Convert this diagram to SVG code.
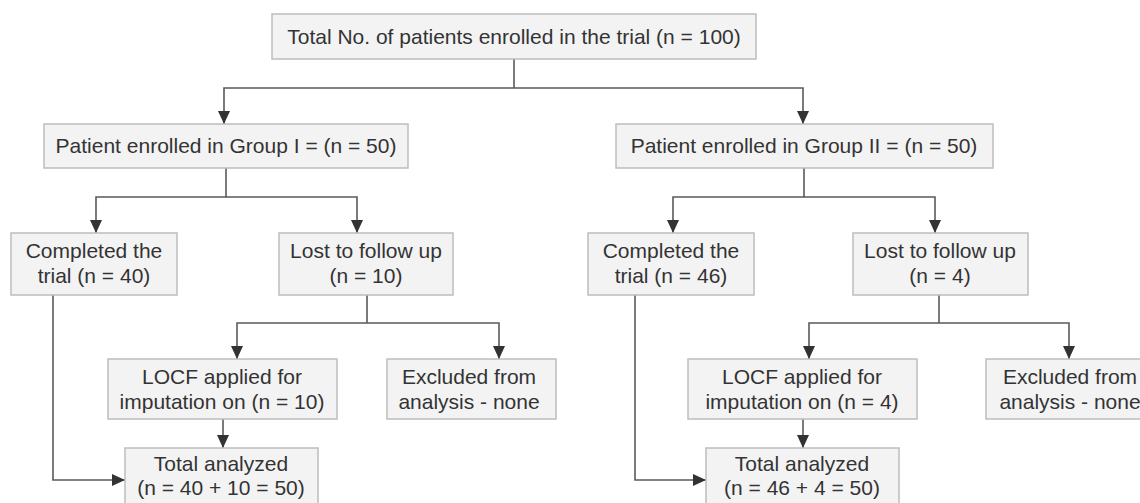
<svg xmlns="http://www.w3.org/2000/svg" width="1140" height="503" viewBox="0 0 1140 503">
<style>
.box{fill:#f3f3f3;stroke:#bdbdbd;stroke-width:1.5}
.t{font-family:"Liberation Sans",Arial,sans-serif;font-size:21px;fill:#333;text-anchor:middle}
.c{fill:none;stroke:#5a5a5a;stroke-width:1.6}
</style>
<defs>
<marker id="ah" viewBox="0 0 13 12" refX="13" refY="6" markerWidth="13" markerHeight="12" markerUnits="userSpaceOnUse" orient="auto">
<path d="M0,0 L13,6 L0,12 z" fill="#333"/>
</marker>
</defs>
<rect width="1140" height="503" fill="#fff"/>
<g id="connectors">
<path class="c" d="M514,59 V88"/>
<path class="c" d="M514,88 H224 V124" marker-end="url(#ah)"/>
<path class="c" d="M514,88 H803 V124" marker-end="url(#ah)"/>
<path class="c" d="M226,168 V197"/>
<path class="c" d="M226,197 H96 V233" marker-end="url(#ah)"/>
<path class="c" d="M226,197 H357 V233" marker-end="url(#ah)"/>
<path class="c" d="M53,295 V480 H125" marker-end="url(#ah)"/>
<path class="c" d="M367,295 V323"/>
<path class="c" d="M367,323 H237 V359" marker-end="url(#ah)"/>
<path class="c" d="M367,323 H499 V359" marker-end="url(#ah)"/>
<path class="c" d="M223,419 V448" marker-end="url(#ah)"/>
<path class="c" d="M804,168 V197"/>
<path class="c" d="M804,197 H673 V233" marker-end="url(#ah)"/>
<path class="c" d="M804,197 H935 V233" marker-end="url(#ah)"/>
<path class="c" d="M635,295 V480 H706" marker-end="url(#ah)"/>
<path class="c" d="M939,295 V323"/>
<path class="c" d="M939,323 H809 V359" marker-end="url(#ah)"/>
<path class="c" d="M939,323 H1069 V359" marker-end="url(#ah)"/>
<path class="c" d="M803,419 V448" marker-end="url(#ah)"/>
</g>
<g id="total">
<rect class="box" x="272" y="14" width="484" height="45"/>
<text class="t" x="514" y="44">Total No. of patients enrolled in the trial (n = 100)</text>
</g>
<g id="group1">
<rect class="box" x="44" y="124" width="364" height="44"/>
<text class="t" x="226" y="153">Patient enrolled in Group I = (n = 50)</text>
</g>
<g id="group2">
<rect class="box" x="616" y="124" width="377" height="44"/>
<text class="t" x="804" y="153">Patient enrolled in Group II = (n = 50)</text>
</g>
<g id="completed1">
<rect class="box" x="11" y="233" width="166" height="62"/>
<text class="t" x="94" y="258">Completed the</text>
<text class="t" x="94" y="283">trial (n = 40)</text>
</g>
<g id="lost1">
<rect class="box" x="279" y="233" width="174" height="62"/>
<text class="t" x="366" y="258">Lost to follow up</text>
<text class="t" x="366" y="283">(n = 10)</text>
</g>
<g id="completed2">
<rect class="box" x="588" y="233" width="166" height="62"/>
<text class="t" x="671" y="258">Completed the</text>
<text class="t" x="671" y="283">trial (n = 46)</text>
</g>
<g id="lost2">
<rect class="box" x="853" y="233" width="175" height="62"/>
<text class="t" x="940" y="258">Lost to follow up</text>
<text class="t" x="940" y="283">(n = 4)</text>
</g>
<g id="locf1">
<rect class="box" x="108" y="359" width="229" height="60"/>
<text class="t" x="222" y="384">LOCF applied for</text>
<text class="t" x="222" y="409">imputation on (n = 10)</text>
</g>
<g id="excluded1">
<rect class="box" x="387" y="359" width="169" height="60"/>
<text class="t" x="469" y="384">Excluded from</text>
<text class="t" x="469" y="409">analysis - none</text>
</g>
<g id="locf2">
<rect class="box" x="688" y="359" width="229" height="60"/>
<text class="t" x="802" y="384">LOCF applied for</text>
<text class="t" x="802" y="409">imputation on (n = 4)</text>
</g>
<g id="excluded2">
<rect class="box" x="986" y="359" width="169" height="60"/>
<text class="t" x="1070" y="384">Excluded from</text>
<text class="t" x="1070" y="409">analysis - none</text>
</g>
<g id="analyzed1">
<rect class="box" x="125" y="448" width="193" height="62"/>
<text class="t" x="221" y="471">Total analyzed</text>
<text class="t" x="221" y="495">(n = 40 + 10 = 50)</text>
</g>
<g id="analyzed2">
<rect class="box" x="706" y="448" width="193" height="62"/>
<text class="t" x="802" y="471">Total analyzed</text>
<text class="t" x="802" y="495">(n = 46 + 4 = 50)</text>
</g>
</svg>
